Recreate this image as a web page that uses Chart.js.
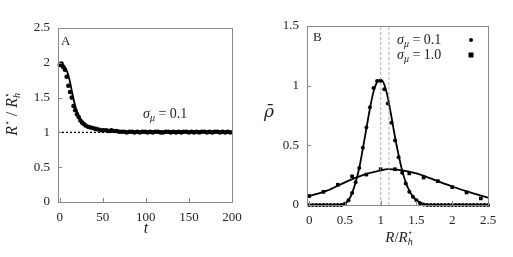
<!DOCTYPE html>
<html>
<head>
<meta charset="utf-8">
<script src="https://cdn.jsdelivr.net/npm/chart.js@4"></script>
<style>
  body { margin: 0; background: #fff; }
  #wrap { position: relative; width: 513px; height: 257px; }
  canvas { position: absolute; top: 0; }
  #chartA { left: 0; }
  #chartB { left: 256px; }
</style>
</head>
<body>
<div id="wrap">
  <canvas id="chartA" width="256" height="257"></canvas>
  <canvas id="chartB" width="257" height="257"></canvas>
</div>
<script>
// panel A: R*/R*_h against t
const tPts = [0, 2, 4, 6, 8, 10, 12, 14, 16, 18, 20, 22, 24, 26, 28, 30,
  33, 36, 39, 42, 45, 48, 51, 54, 57, 60, 63, 66, 69, 72, 75, 78, 81, 84, 87, 90,
  93, 96, 99, 102, 105, 108, 111, 114, 117, 120, 123, 126, 129, 132, 135, 138,
  141, 144, 147, 150, 153, 156, 159, 162, 165, 168, 171, 174, 177, 180, 183,
  186, 189, 192, 195, 198];
const rPts = [1.97, 1.99, 1.94, 1.90, 1.80, 1.67, 1.58, 1.50, 1.38, 1.32, 1.26, 1.22, 1.17, 1.14, 1.12, 1.10,
  1.08, 1.07, 1.06, 1.05, 1.04, 1.03, 1.03, 1.03, 1.02, 1.03, 1.02, 1.02, 1.01,
  1.01, 1.01, 1.00, 1.01, 1.01, 1.00, 1.01, 1.00, 1.01, 1.01, 1.00, 1.01, 1.00, 1.01, 1.01,
  1.00, 1.00, 1.01, 1.01, 1.00, 1.01, 1.00, 1.01, 1.00, 1.01, 1.01, 1.00, 1.01, 1.00, 1.01,
  1.00, 1.01, 1.01, 1.00, 1.01, 1.00, 1.01, 1.01, 1.00, 1.01, 1.00, 1.01, 1.00];
const tFit = [0, 4, 8, 10, 12, 14, 16, 18, 20, 22, 25, 30, 35, 40, 50, 60, 80, 120, 200];
const rFit = [2.00, 1.97, 1.89, 1.82, 1.72, 1.60, 1.48, 1.38, 1.30, 1.24, 1.17, 1.11, 1.07, 1.05, 1.025, 1.01, 1.0, 1.0, 1.0];
const xTicksA = [0, 50, 100, 150, 200];
const yTicksA = [0, 0.5, 1, 1.5, 2, 2.5];

// panel B: rho-bar against R/R*_h
const xB = [0, 0.05, 0.1, 0.15, 0.2, 0.25, 0.3, 0.35, 0.4, 0.45, 0.5, 0.55, 0.6, 0.65, 0.7,
  0.75, 0.8, 0.85, 0.9, 0.95, 1.0, 1.05, 1.1, 1.15, 1.2, 1.25, 1.3, 1.35, 1.4, 1.45, 1.5,
  1.55, 1.6, 1.65, 1.7, 1.75, 1.8, 1.85, 1.9, 1.95, 2.0, 2.05, 2.1, 2.15, 2.2, 2.25, 2.3,
  2.35, 2.4, 2.45, 2.5];
const rho01 = [0, 0, 0, 0, 0, 0, 0, 0, 0, 0,
  0.01, 0.04, 0.10, 0.19, 0.31, 0.48, 0.65, 0.82, 0.98, 1.04, 1.04, 0.97, 0.85, 0.69, 0.54,
  0.40, 0.27, 0.18, 0.11, 0.07, 0.04, 0.015, 0.005,
  0, 0, 0, 0, 0, 0, 0, 0, 0, 0, 0, 0, 0, 0, 0, 0, 0, 0];
const rhoFit01 = [0, 0, 0, 0, 0, 0, 0, 0, 0,
  0.003, 0.012, 0.04, 0.10, 0.19, 0.31, 0.47, 0.64, 0.81, 0.95, 1.03, 1.05, 1.01, 0.90, 0.74,
  0.57, 0.42, 0.29, 0.19, 0.12, 0.07, 0.04, 0.02, 0.008, 0.003,
  0, 0, 0, 0, 0, 0, 0, 0, 0, 0, 0, 0, 0, 0, 0, 0, 0];
const xSq = [0, 0.2, 0.4, 0.6, 0.8, 1.0, 1.2, 1.4, 1.6, 1.8, 2.0, 2.2, 2.4];
const rhoSq = [0.075, 0.11, 0.17, 0.24, 0.255, 0.30, 0.30, 0.265, 0.23, 0.20, 0.15, 0.105, 0.055];
const xFit10 = [0, 0.25, 0.5, 0.75, 1.0, 1.1, 1.25, 1.5, 1.75, 2.0, 2.25, 2.5];
const rhoFit10 = [0.075, 0.12, 0.19, 0.25, 0.29, 0.30, 0.295, 0.265, 0.21, 0.155, 0.105, 0.062];
const vLines = [1.0, 1.115];
const xTicksB = [0, 0.5, 1, 1.5, 2, 2.5];
const yTicksB = [0, 0.5, 1, 1.5];

const SERIF = '"Liberation Serif", "DejaVu Serif", serif';
const TXT = '#222';
const FRAME = '#888';

function pts(xs, ys) { return xs.map((x, i) => ({ x: x, y: ys[i] })); }

// draw a run of text pieces (for the little bits of math)
function drawParts(ctx, parts, x, y, align) {
  let w = 0, last = 0;
  parts.forEach(p => {
    ctx.font = p.f;
    const pw = ctx.measureText(p.t).width;
    if (p.stack) { w += Math.max(0, pw - last); last = Math.max(pw, last); }
    else { w += pw; last = pw; }
  });
  let cx = align === 'center' ? x - w / 2 : (align === 'right' ? x - w : x);
  let prevX = cx, prevW = 0;
  parts.forEach(p => {
    ctx.font = p.f;
    const pw = ctx.measureText(p.t).width;
    if (p.stack) {
      ctx.fillText(p.t, prevX, y + (p.dy || 0));
      cx = prevX + Math.max(prevW, pw);
    } else {
      ctx.fillText(p.t, cx, y + (p.dy || 0));
      prevX = cx; prevW = pw;
      cx += pw;
    }
  });
}

function frameAndTicks(chart) {
  const ctx = chart.ctx, a = chart.chartArea;
  const xs = chart.scales.x, ys = chart.scales.y;
  ctx.save();
  ctx.strokeStyle = FRAME;
  ctx.lineWidth = 1;
  ctx.strokeRect(Math.round(a.left) + 0.5, Math.round(a.top) + 0.5,
    Math.round(a.right - a.left), Math.round(a.bottom - a.top));
  ctx.beginPath();
  xs.ticks.forEach(t => {
    const px = Math.round(xs.getPixelForValue(t.value)) + 0.5;
    ctx.moveTo(px, a.bottom); ctx.lineTo(px, a.bottom - 4);
  });
  ys.ticks.forEach(t => {
    const py = Math.round(ys.getPixelForValue(t.value)) + 0.5;
    ctx.moveTo(a.left, py); ctx.lineTo(a.left + 4, py);
  });
  ctx.stroke();
  ctx.restore();
}

function axisScale(min, max, tickList, size, isY) {
  return {
    type: 'linear', min: min, max: max,
    grid: { display: false, drawTicks: false },
    border: { display: false },
    afterBuildTicks: s => { s.ticks = tickList.map(v => ({ value: v })); },
    afterFit: s => { if (isY) s.width = size; else s.height = size; },
    ticks: { color: TXT, font: { family: SERIF, size: 13 }, padding: 8, callback: v => String(v) }
  };
}

const panelA = {
  id: 'panelA',
  afterDraw(chart) {
    frameAndTicks(chart);
    const ctx = chart.ctx;
    ctx.save();
    ctx.fillStyle = TXT;
    ctx.textBaseline = 'alphabetic';
    ctx.font = '13px ' + SERIF;
    ctx.fillText('A', 61, 45);
    drawParts(ctx, [
      { t: 'σ', f: 'italic 14px ' + SERIF },
      { t: 'μ', f: 'italic 10px ' + SERIF, dy: 3 },
      { t: ' = 0.1', f: '14px ' + SERIF }
    ], 143, 118, 'left');
    drawParts(ctx, [{ t: 't', f: 'italic 16px ' + SERIF }], 146, 233, 'center');
    ctx.translate(17, 114);
    ctx.rotate(-Math.PI / 2);
    drawParts(ctx, [
      { t: 'R', f: 'italic 16px ' + SERIF },
      { t: '⋆', f: '9px "DejaVu Sans"', dy: -7 },
      { t: ' / ', f: '16px ' + SERIF },
      { t: 'R', f: 'italic 16px ' + SERIF },
      { t: '⋆', f: '9px "DejaVu Sans"', dy: -7 },
      { t: 'h', f: 'italic 10px ' + SERIF, dy: 3, stack: true }
    ], 0, 0, 'center');
    ctx.restore();
  }
};

const panelB = {
  id: 'panelB',
  afterDraw(chart) {
    frameAndTicks(chart);
    const ctx = chart.ctx;
    ctx.save();
    ctx.fillStyle = TXT;
    ctx.font = '13px ' + SERIF;
    ctx.fillText('B', 57, 41);
    const leg = [['0.1', 44], ['1.0', 59]];
    leg.forEach(l => {
      drawParts(ctx, [
        { t: 'σ', f: 'italic 14px ' + SERIF },
        { t: 'μ', f: 'italic 10px ' + SERIF, dy: 3 },
        { t: ' = ' + l[0], f: '14px ' + SERIF }
      ], 141, l[1], 'left');
    });
    ctx.fillStyle = '#000';
    ctx.beginPath(); ctx.arc(215, 40, 2, 0, Math.PI * 2); ctx.fill();
    ctx.fillRect(212.5, 52.5, 5, 5);
    ctx.fillStyle = TXT;
    drawParts(ctx, [
      { t: 'R', f: 'italic 15px ' + SERIF },
      { t: '/', f: '15px ' + SERIF },
      { t: 'R', f: 'italic 15px ' + SERIF },
      { t: '⋆', f: '8px "DejaVu Sans"', dy: -7 },
      { t: 'h', f: 'italic 10px ' + SERIF, dy: 3, stack: true }
    ], 143, 242, 'center');
    drawParts(ctx, [{ t: 'ρ̄', f: 'italic 17px "DejaVu Serif"' }], 13, 117, 'center');
    ctx.restore();
  }
};

new Chart(document.getElementById('chartA'), {
  type: 'scatter',
  data: {
    datasets: [
      { data: pts(tPts, rPts), backgroundColor: '#000', borderColor: '#000', pointRadius: 2.3, pointBorderWidth: 0, clip: false },
      { type: 'line', data: pts(tFit, rFit), borderColor: '#000', borderWidth: 1.8, pointRadius: 0, cubicInterpolationMode: 'monotone' },
      { type: 'line', data: pts([-2, 200], [1, 1]), borderColor: '#000', borderWidth: 1.3, borderDash: [2, 2], pointRadius: 0 }
    ]
  },
  options: {
    responsive: false, animation: false, events: [],
    layout: { padding: { top: 28, right: 24, left: 0, bottom: 0 } },
    plugins: { legend: { display: false }, tooltip: { enabled: false } },
    scales: {
      x: axisScale(-2, 200, xTicksA, 55, false),
      y: axisScale(0, 2.5, yTicksA, 58, true)
    }
  },
  plugins: [panelA]
});

const vDatasets = vLines.map(v => ({
  type: 'line', data: pts([v, v], [0, 1.5]), borderColor: '#999', borderWidth: 0.8,
  borderDash: [3, 2], pointRadius: 0
}));

new Chart(document.getElementById('chartB'), {
  type: 'scatter',
  data: {
    datasets: vDatasets.concat([
      { data: pts(xB, rho01), backgroundColor: '#000', pointRadius: 2, pointBorderWidth: 0, clip: false },
      { data: pts(xSq, rhoSq), backgroundColor: '#000', pointStyle: 'rect', pointRadius: 2.6, pointBorderWidth: 0, clip: false },
      { type: 'line', data: pts(xB, rhoFit01), borderColor: '#000', borderWidth: 1.8, pointRadius: 0, cubicInterpolationMode: 'monotone' },
      { type: 'line', data: pts(xFit10, rhoFit10), borderColor: '#000', borderWidth: 1.8, pointRadius: 0, cubicInterpolationMode: 'monotone' }
    ])
  },
  options: {
    responsive: false, animation: false, events: [],
    layout: { padding: { top: 26, right: 25, left: 0, bottom: 0 } },
    plugins: { legend: { display: false }, tooltip: { enabled: false } },
    scales: {
      x: axisScale(-0.03, 2.5, xTicksB, 52, false),
      y: axisScale(0, 1.5, yTicksB, 51, true)
    }
  },
  plugins: [panelB]
});
</script>
</body>
</html>
